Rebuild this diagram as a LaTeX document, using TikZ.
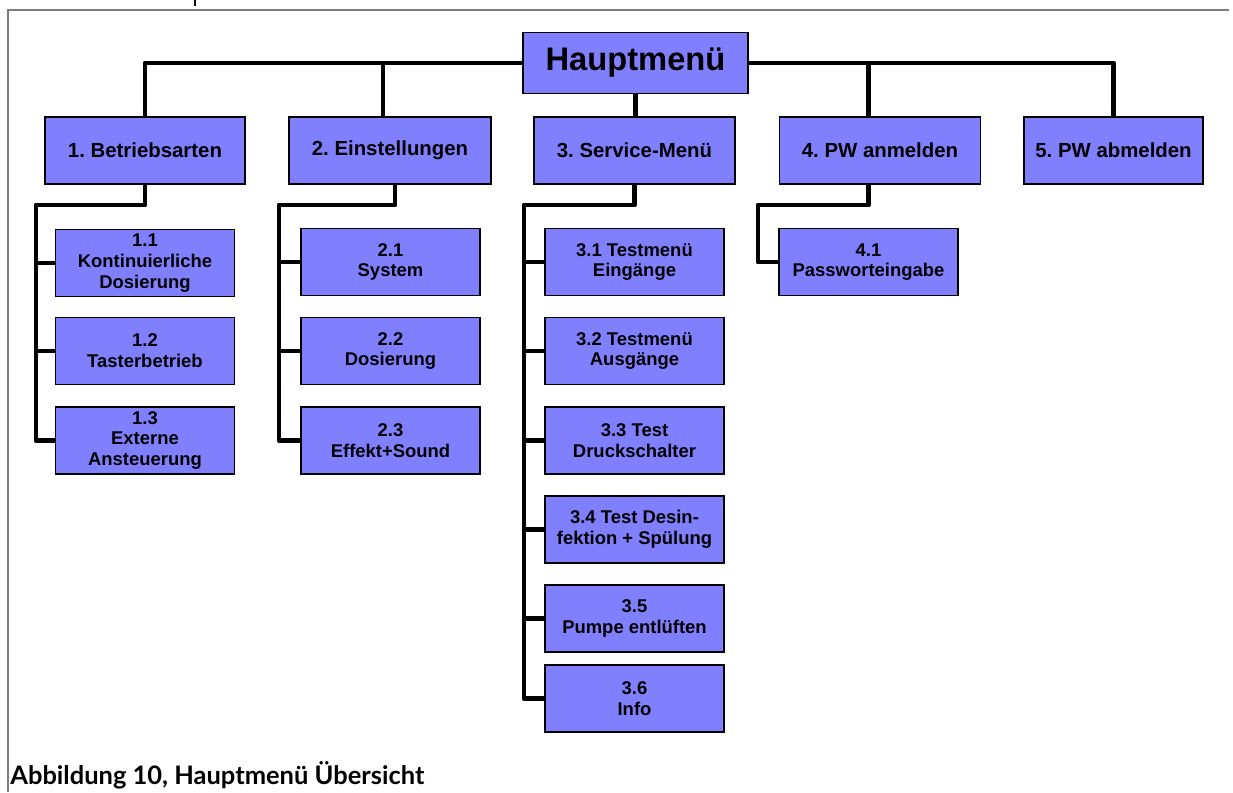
\documentclass[tikz,border=0pt]{standalone}
\usepackage{fontspec}
\setmainfont{Liberation Sans}
\newfontfamily\capfont{Lato}
\usepackage{xcolor}
\definecolor{menublue}{RGB}{128,128,255}
\definecolor{framegray}{RGB}{125,125,125}
\frenchspacing

\begin{document}
\begin{tikzpicture}[x=0.02cm,y=-0.02cm,
  box/.style={draw=black,line width=1.1pt,fill=menublue,inner sep=0pt,
    align=center,font=\fontsize{10.5}{11.8}\selectfont\bfseries},
  topbox/.style={box,minimum width=4cm,minimum height=1.34cm,
    font=\fontsize{11.6}{13}\selectfont\bfseries},
  subbox/.style={box,minimum width=3.58cm,minimum height=1.34cm},
  link/.style={line width=2.8pt,line join=round}]
\useasboundingbox (0,0) rectangle (1233,792);
% frame
\draw[framegray,line width=0.6pt] (8,792) -- (8,10) -- (1229,10);
\draw[line width=0.8pt] (195,0) -- (195,6);
% main menu
\node[box,minimum width=4.5cm,minimum height=1.22cm,
  font=\fontsize{18.6}{20}\selectfont\bfseries] (haupt) at (635.5,63) {Hauptmenü};
\node[topbox] (m1) at (145,150.5) {1. Betriebsarten};
\node[topbox,minimum width=4.04cm] (m2) at (390,150.5) {2. Einstellungen};
\node[topbox,minimum width=4.02cm] (m3) at (634.5,150.5) {3. Service-Menü};
\node[topbox,minimum width=4.02cm] (m4) at (880,150.5) {4. PW anmelden};
\node[topbox,minimum width=3.58cm] (m5) at (1113.5,150.5) {5. PW abmelden};
% submenus
\node[subbox] (c11) at (145,263) {1.1\\Kontinuierliche\\Dosierung};
\node[subbox] (c12) at (145,351) {1.2\\Tasterbetrieb};
\node[subbox] (c13) at (145,440.5) {1.3\\Externe\\Ansteuerung};
\node[subbox] (c21) at (390.5,262) {2.1\\System};
\node[subbox] (c22) at (390.5,351) {2.2\\Dosierung};
\node[subbox] (c23) at (390.5,440.5) {2.3\\Effekt+Sound};
\node[subbox] (c31) at (634.5,262) {3.1 Testmenü\\Eingänge};
\node[subbox] (c32) at (634.5,351) {3.2 Testmenü\\Ausgänge};
\node[subbox] (c33) at (634.5,440.5) {3.3 Test\\Druckschalter};
\node[subbox] (c34) at (634.5,529.5) {3.4 Test Desin-\\fektion + Spülung};
\node[subbox] (c35) at (634.5,618.5) {3.5\\Pumpe entlüften};
\node[subbox] (c36) at (634.5,698.5) {3.6\\Info};
\node[subbox] (c41) at (868.5,262) {4.1\\Passworteingabe};
% bus
\coordinate (bus2) at (383,63);
\coordinate (bus4) at (868.5,63);
\draw[link] (m1.north) |- (haupt.west);
\draw[link] (haupt.east) -| (m5.north);
\draw[link] (haupt.south) -- (haupt.south |- m3.north);
\draw[link] (bus2) -- (bus2 |- m2.north);
\draw[link] (bus4) -- (bus4 |- m4.north);
% spines
\coordinate (s1) at (36,205);
\coordinate (s2) at (279,205);
\coordinate (s3) at (524,205);
\coordinate (s4) at (758,205);
\coordinate (d2) at (395,184);
\draw[link] (m1.south) |- (s1) |- (c13.west);
\draw[link] (d2) |- (s2) |- (c23.west);
\draw[link] (m3.south) |- (s3) |- (c36.west);
\draw[link] (m4.south -| c41) |- (s4) |- (c41.west);
\foreach \c in {c11,c12} \draw[link] (\c.west) -- (\c.west -| s1);
\foreach \c in {c21,c22} \draw[link] (\c.west) -- (\c.west -| s2);
\foreach \c in {c31,c32,c33,c34,c35} \draw[link] (\c.west) -- (\c.west -| s3);
% caption
\node[anchor=base west,inner sep=0pt,font=\capfont\fontsize{14.5}{16}\selectfont\bfseries]
  (cap) at (10,784) {Abbildung 10, Hauptmenü Übersicht};
\end{tikzpicture}
\end{document}
